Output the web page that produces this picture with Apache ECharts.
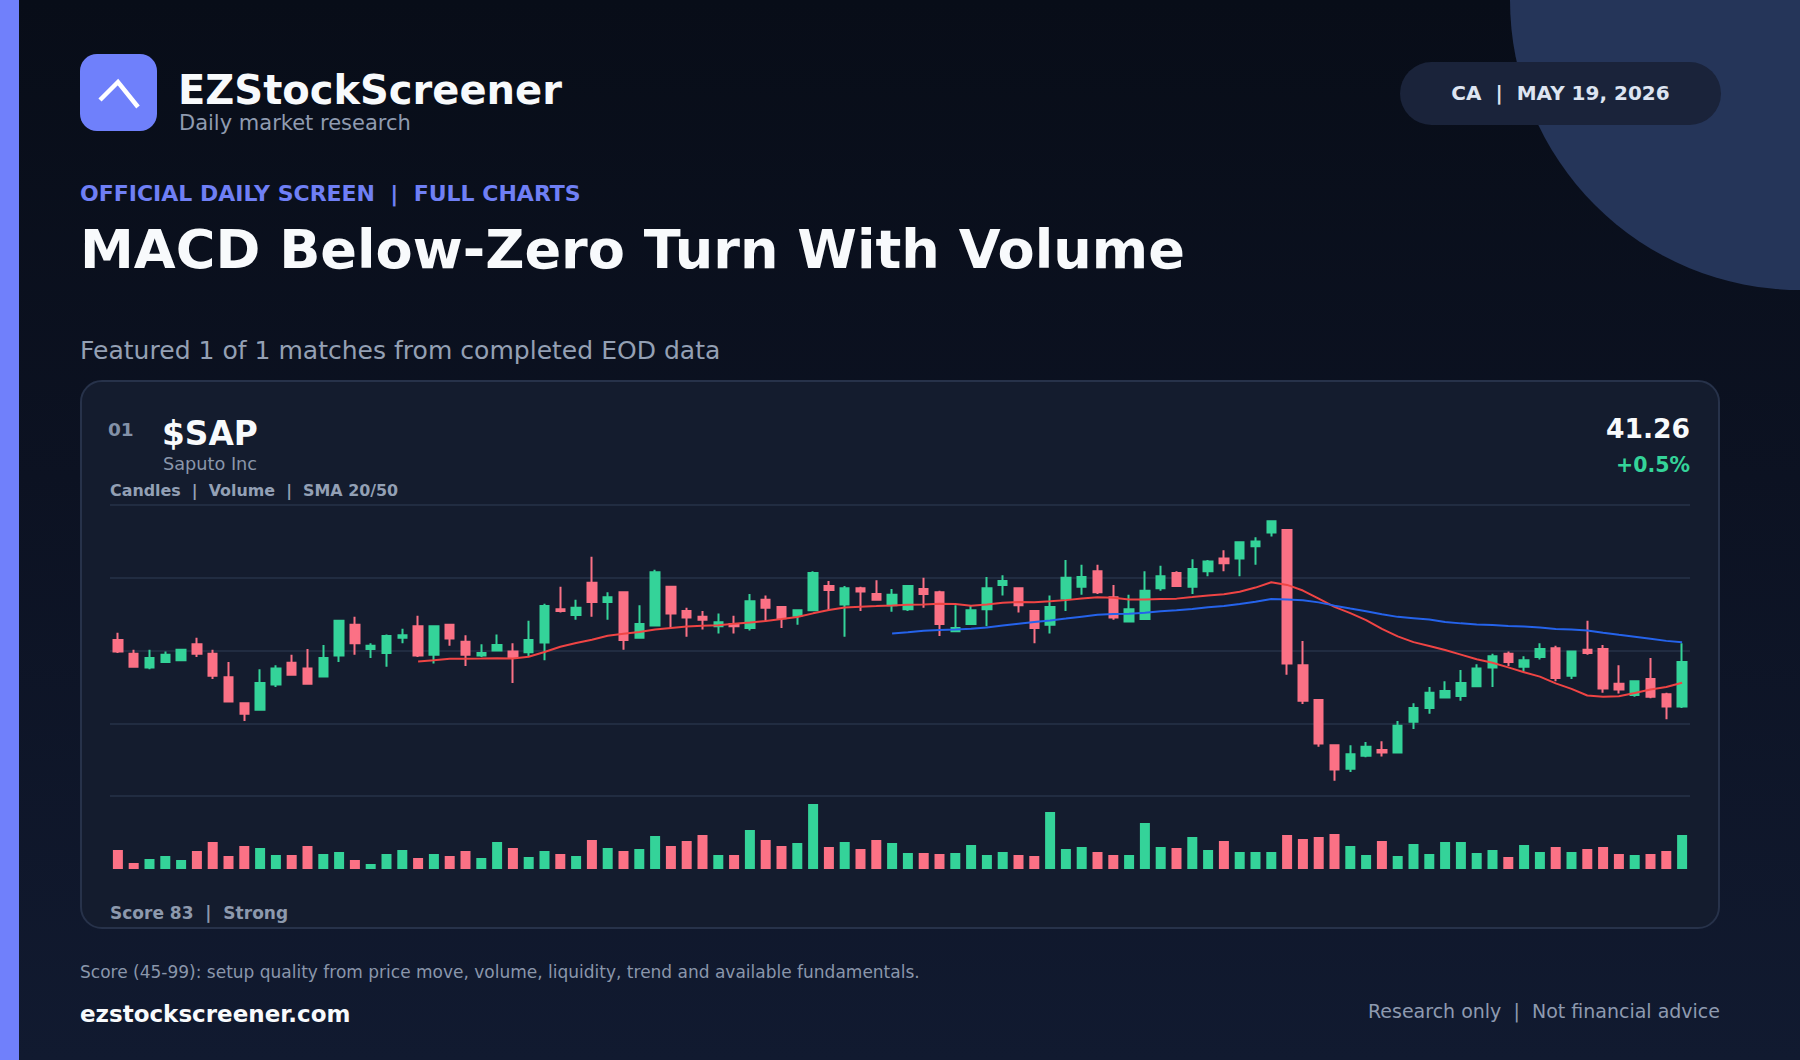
<!DOCTYPE html>
<html><head><meta charset="utf-8">
<script src="https://cdn.jsdelivr.net/npm/echarts@6/dist/echarts.min.js"></script>
<style>
html,body{margin:0;padding:0;width:1800px;height:1060px;overflow:hidden;}
body{background:linear-gradient(180deg,#080d18 0%,#0c1222 45%,#111a30 100%);font-family:"DejaVu Sans",sans-serif;position:relative;}
.abs{position:absolute;line-height:1;white-space:pre;}
#circle{position:absolute;left:1510px;top:-290px;width:580px;height:580px;border-radius:50%;background:#253559;}
#accent{position:absolute;left:0;top:0;width:19px;height:1060px;background:#7080fb;}
#logo{position:absolute;left:80px;top:54px;width:77px;height:77px;border-radius:17px;background:#6f80fb;}
#pill{position:absolute;left:1400px;top:62px;width:321px;height:63px;border-radius:32px;background:#1a233a;}
#card{position:absolute;left:80px;top:380px;width:1640px;height:549px;box-sizing:border-box;border:2px solid #27324a;border-radius:22px;background:#141c2e;}
#chart{position:absolute;left:100px;top:495px;width:1600px;height:384px;}
</style></head>
<body>
<div id="circle"></div>
<div id="accent"></div>
<div id="logo"><svg width="77" height="77" viewBox="0 0 77 77"><polyline points="20,46 38,28 58,53" fill="none" stroke="#ffffff" stroke-width="4.5" stroke-linecap="butt" stroke-linejoin="miter"/></svg></div>
<div class="abs" style="left:178px;top:70px;font-size:40px;font-weight:bold;color:#f8fafc;">EZStockScreener</div>
<div class="abs" style="left:179px;top:113px;font-size:21px;color:#8f9bb0;">Daily market research</div>
<div id="pill"></div>
<div class="abs" style="left:1400px;width:321px;text-align:center;top:83px;font-size:20px;font-weight:bold;color:#dde4f1;">CA  |  MAY 19, 2026</div>
<div class="abs" style="left:80px;top:183px;font-size:22px;font-weight:bold;color:#6f7ff5;">OFFICIAL DAILY SCREEN  |  FULL CHARTS</div>
<div class="abs" style="left:80px;top:223px;font-size:54.1px;font-weight:bold;color:#f8fafc;">MACD Below-Zero Turn With Volume</div>
<div class="abs" style="left:80px;top:338px;font-size:25.05px;color:#94a0b4;">Featured 1 of 1 matches from completed EOD data</div>
<div id="card"></div>
<div class="abs" style="left:108px;top:421px;font-size:18.5px;font-weight:bold;color:#8391a8;">01</div>
<div class="abs" style="left:162px;top:418px;font-size:32.8px;font-weight:bold;color:#f8fafc;">$SAP</div>
<div class="abs" style="left:163px;top:456px;font-size:17.7px;color:#8a96aa;">Saputo Inc</div>
<div class="abs" style="left:110px;top:483px;font-size:15.9px;font-weight:bold;color:#93a0b5;">Candles  |  Volume  |  SMA 20/50</div>
<div class="abs" style="right:110px;top:416px;font-size:26.6px;font-weight:bold;color:#f8fafc;text-align:right;">41.26</div>
<div class="abs" style="right:110px;top:455px;font-size:20.5px;font-weight:bold;color:#34d399;text-align:right;">+0.5%</div>
<div id="chart"></div>
<div class="abs" style="left:110px;top:905px;font-size:17px;font-weight:bold;color:#8d99ad;">Score 83  |  Strong</div>
<div class="abs" style="left:80px;top:964px;font-size:17px;color:#8a96ab;">Score (45-99): setup quality from price move, volume, liquidity, trend and available fundamentals.</div>
<div class="abs" style="left:80px;top:1003px;font-size:23px;font-weight:bold;color:#f8fafc;">ezstockscreener.com</div>
<div class="abs" style="right:80px;top:1002px;font-size:19px;color:#8e9ab0;text-align:right;">Research only  |  Not financial advice</div>
<script>
const days = ['1','2','3','4','5','6','7','8','9','10','11','12','13','14','15','16','17','18','19','20',
'21','22','23','24','25','26','27','28','29','30','31','32','33','34','35','36','37','38','39','40',
'41','42','43','44','45','46','47','48','49','50','51','52','53','54','55','56','57','58','59','60',
'61','62','63','64','65','66','67','68','69','70','71','72','73','74','75','76','77','78','79','80',
'81','82','83','84','85','86','87','88','89','90','91','92','93','94','95','96','97','98','99','100'];

const opens = [41.53,41.36,41.19,41.26,41.28,41.48,41.36,41.07,40.75,40.67,
40.98,41.25,41.18,41.08,41.34,41.72,41.42,41.37,41.56,41.70,
41.35,41.72,41.51,41.34,41.40,41.39,41.38,41.50,41.91,41.84,
42.24,42.00,42.12,41.56,41.71,42.19,41.89,41.82,41.70,41.73,
41.68,42.03,41.94,41.83,41.90,42.20,41.97,42.17,42.10,41.96,
41.91,42.16,42.12,41.64,41.73,41.91,42.21,42.17,41.89,41.72,
42.04,42.19,42.38,42.06,41.76,41.79,42.17,42.36,42.19,42.38,
42.54,42.54,42.69,42.86,42.89,41.22,40.79,40.23,39.94,40.10,
40.17,40.14,40.52,40.69,40.82,40.84,40.96,41.19,41.36,41.20,
41.32,41.43,41.09,41.41,41.42,40.99,40.85,41.05,40.86,40.71];

const closes = [41.39,41.20,41.31,41.35,41.41,41.36,41.09,40.77,40.62,41.00,
41.18,41.10,40.99,41.31,41.77,41.49,41.46,41.58,41.59,41.34,
41.70,41.55,41.35,41.37,41.47,41.32,41.53,41.95,41.89,41.93,
42.00,42.06,41.53,41.73,42.37,41.86,41.81,41.78,41.75,41.70,
42.01,41.93,41.80,41.90,42.36,42.15,42.17,42.13,42.03,42.09,
42.20,42.10,41.73,41.68,41.90,42.17,42.26,41.96,41.68,41.94,
42.30,42.31,42.12,41.81,41.91,42.14,42.32,42.20,42.41,42.50,
42.48,42.74,42.75,43.00,41.24,40.78,40.25,39.93,40.12,40.21,
40.14,40.47,40.69,40.88,40.90,41.00,41.18,41.33,41.26,41.28,
41.42,41.06,41.39,41.37,40.93,40.92,41.02,40.83,40.71,41.26];

const lows = [41.37,41.20,41.17,41.26,41.28,41.32,41.05,40.76,40.53,40.67,
40.95,41.09,40.98,41.08,41.26,41.35,41.31,41.20,41.49,41.32,
41.24,41.46,41.21,41.32,41.40,41.00,41.32,41.28,41.87,41.78,
41.82,41.78,41.41,41.55,41.71,41.68,41.57,41.66,41.61,41.61,
41.65,41.76,41.68,41.72,41.89,41.90,41.57,41.89,42.02,41.88,
41.89,41.93,41.58,41.63,41.73,41.70,42.08,41.87,41.49,41.61,
41.89,42.09,42.10,41.78,41.75,41.79,42.14,42.19,42.10,42.32,
42.38,42.32,42.46,42.81,41.10,40.74,40.21,39.79,39.90,40.08,
40.09,40.14,40.43,40.62,40.82,40.78,40.95,40.95,41.21,41.14,
41.29,41.02,41.05,41.35,40.88,40.87,40.83,40.81,40.55,40.69];

const highs = [41.62,41.41,41.41,41.39,41.41,41.56,41.41,41.26,40.76,41.17,
41.22,41.35,41.42,41.47,41.77,41.82,41.49,41.60,41.67,41.83,
41.70,41.73,41.59,41.48,41.60,41.49,41.77,41.98,42.19,42.03,
42.56,42.12,42.12,41.96,42.40,42.19,41.93,41.89,41.86,41.83,
42.10,42.08,41.94,41.91,42.38,42.26,42.20,42.19,42.27,42.16,
42.21,42.30,42.14,41.96,41.95,42.31,42.33,42.17,41.89,42.08,
42.52,42.46,42.46,42.21,42.09,42.38,42.45,42.38,42.53,42.52,
42.64,42.75,42.80,43.01,42.90,41.52,40.79,40.23,40.23,40.27,
40.28,40.53,40.75,40.95,41.02,41.16,41.23,41.36,41.39,41.33,
41.49,41.46,41.39,41.77,41.47,41.22,41.02,41.31,40.88,41.49];

// volume, thousands of shares
const volumes = [399,126,210,273,189,378,567,273,483,441,
294,294,483,315,357,189,105,315,399,231,
315,273,378,231,567,441,252,378,315,273,
609,441,378,420,693,483,588,714,294,294,
819,609,483,546,1365,462,567,420,609,546,
336,336,315,336,504,294,357,294,273,1197,
420,462,357,294,294,966,462,441,672,399,
588,357,357,357,714,630,672,735,483,294,
588,273,525,315,567,567,336,399,252,504,
357,462,357,420,462,315,294,315,378,714];

const UP = '#34d399', DOWN = '#fb7185';

function sma(n){
  const out = [];
  for (let i = 0; i < closes.length; i++) {
    if (i < n - 1) { out.push('-'); continue; }
    let s = 0;
    for (let j = i - n + 1; j <= i; j++) s += closes[j];
    out.push(+(s / n).toFixed(4));
  }
  return out;
}

const candleData = opens.map((o, i) => [o, closes[i], lows[i], highs[i]]);
const volData = volumes.map((v, i) => ({
  value: v,
  itemStyle: { color: closes[i] >= opens[i] ? UP : DOWN }
}));

const chart = echarts.init(document.getElementById('chart'), null, {renderer: 'canvas'});
chart.setOption({
  animation: false,
  backgroundColor: 'transparent',
  grid: { left: 10, right: 10, top: 10, bottom: 10, containLabel: false },
  xAxis: {
    type: 'category', data: days, boundaryGap: true,
    axisLine: { show: false }, axisTick: { show: false }, axisLabel: { show: false },
    splitLine: { show: false }
  },
  yAxis: [
    { type: 'value', min: 38.7, max: 43.2, interval: 0.9,
      axisLine: { show: false }, axisTick: { show: false }, axisLabel: { show: false },
      splitLine: { show: true, showMinLine: false, lineStyle: { color: '#263248', width: 1.5 } } },
    { type: 'value', min: 0, max: 7644,
      axisLine: { show: false }, axisTick: { show: false }, axisLabel: { show: false },
      splitLine: { show: false } }
  ],
  series: [
    { name: 'Volume', type: 'bar', yAxisIndex: 1, data: volData, barWidth: 10, z: 1 },
    { name: 'Price', type: 'candlestick', yAxisIndex: 0, data: candleData, barWidth: 9, z: 2,
      itemStyle: { color: UP, color0: DOWN, borderColor: UP, borderColor0: DOWN, borderColorDoji: UP, borderWidth: 2 } },
    { name: 'SMA 20', type: 'line', yAxisIndex: 0, data: sma(20), showSymbol: false, z: 3,
      lineStyle: { color: '#ef4444', width: 2 }, itemStyle: { color: '#ef4444' } },
    { name: 'SMA 50', type: 'line', yAxisIndex: 0, data: sma(50), showSymbol: false, z: 3,
      lineStyle: { color: '#2563eb', width: 2 }, itemStyle: { color: '#2563eb' } }
  ]
});
</script>
</body></html>
